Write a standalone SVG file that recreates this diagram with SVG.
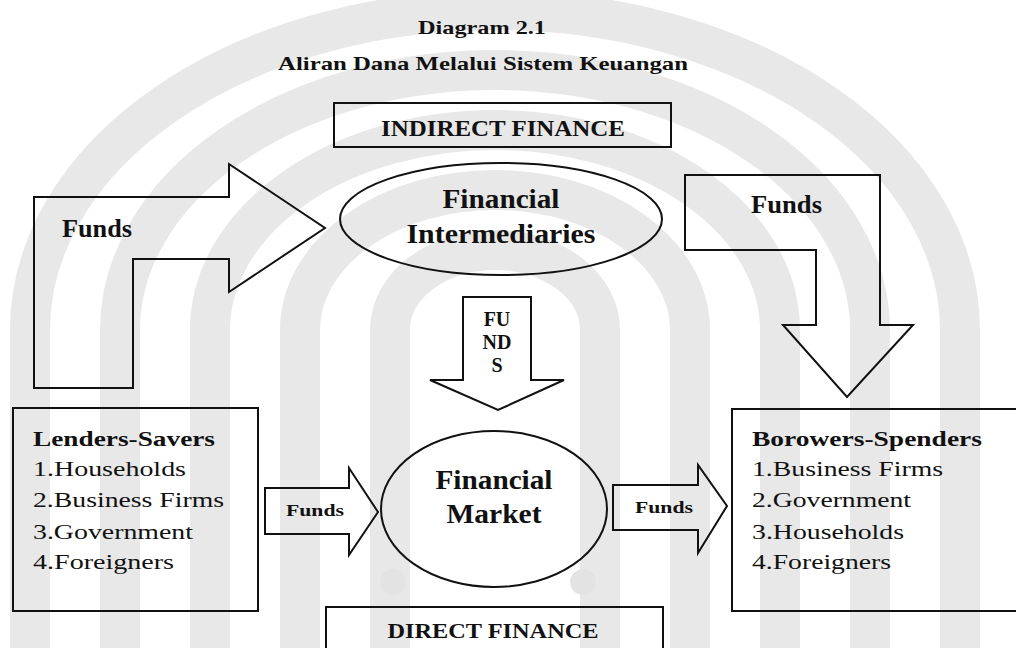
<svg xmlns="http://www.w3.org/2000/svg" width="1016" height="648" viewBox="0 0 1016 648">
  <defs>
    <style>
      .shape { fill: none; stroke: #111; stroke-width: 2; stroke-linejoin: miter; }
      .t { font-family: "Liberation Serif", "Times New Roman", serif; fill: #111; }
      .b { font-weight: bold; }
      .c { text-anchor: middle; }
      .wm { fill: none; stroke: #e8e8e8; stroke-width: 40; }
      .wm-dot { fill: #e3e3e3; }
    </style>
  </defs>
  <rect width="1016" height="648" fill="#ffffff"/>

  <!-- faint emblem printed behind the chart -->
  <g id="background-emblem">
    <path class="wm" d="M30,660 L30,330 A465,320 0 0 1 960,330 L960,660"/>
    <path class="wm" d="M120,660 L120,330 A375,260 0 0 1 870,330 L870,660"/>
    <path class="wm" d="M210,660 L210,330 A285,200 0 0 1 780,330 L780,660"/>
    <path class="wm" d="M300,660 L300,330 A195,140 0 0 1 690,330 L690,660"/>
    <path class="wm" d="M390,660 L390,330 A105,80 0 0 1 600,330 L600,660"/>
    <circle class="wm-dot" cx="393" cy="582" r="13"/>
    <circle class="wm-dot" cx="583" cy="582" r="13"/>
  </g>

  <!-- heading -->
  <g id="heading">
    <text class="t b c" x="482" y="34" font-size="19" textLength="128" lengthAdjust="spacingAndGlyphs">Diagram 2.1</text>
    <text class="t b c" x="483" y="70" font-size="19" textLength="410" lengthAdjust="spacingAndGlyphs">Aliran Dana Melalui Sistem Keuangan</text>
  </g>

  <!-- section labels -->
  <g id="indirect-finance">
    <rect class="shape" x="334" y="103" width="337" height="44"/>
    <text class="t b c" x="503" y="136" font-size="23" textLength="244" lengthAdjust="spacingAndGlyphs">INDIRECT FINANCE</text>
  </g>
  <g id="direct-finance">
    <rect class="shape" x="326" y="607" width="337" height="60"/>
    <text class="t b c" x="493" y="638" font-size="22" textLength="211" lengthAdjust="spacingAndGlyphs">DIRECT FINANCE</text>
  </g>

  <!-- institutions -->
  <g id="financial-intermediaries">
    <ellipse class="shape" cx="501" cy="219" rx="161" ry="56"/>
    <text class="t b c" x="501" y="208" font-size="28" textLength="117" lengthAdjust="spacingAndGlyphs">Financial</text>
    <text class="t b c" x="501" y="243" font-size="28" textLength="189" lengthAdjust="spacingAndGlyphs">Intermediaries</text>
  </g>
  <g id="financial-market">
    <ellipse class="shape" cx="494" cy="509" rx="113" ry="78"/>
    <text class="t b c" x="494" y="489" font-size="28" textLength="117" lengthAdjust="spacingAndGlyphs">Financial</text>
    <text class="t b c" x="494" y="523" font-size="28" textLength="95" lengthAdjust="spacingAndGlyphs">Market</text>
  </g>

  <!-- sectors -->
  <g id="lenders-savers">
    <rect class="shape" x="13" y="408" width="245" height="203"/>
    <text class="t b" x="33" y="446" font-size="22" textLength="182" lengthAdjust="spacingAndGlyphs">Lenders-Savers</text>
    <text class="t" x="33" y="476" font-size="22" textLength="153" lengthAdjust="spacingAndGlyphs">1.Households</text>
    <text class="t" x="33" y="507" font-size="22" textLength="191" lengthAdjust="spacingAndGlyphs">2.Business Firms</text>
    <text class="t" x="33" y="539" font-size="22" textLength="160" lengthAdjust="spacingAndGlyphs">3.Government</text>
    <text class="t" x="33" y="569" font-size="22" textLength="141" lengthAdjust="spacingAndGlyphs">4.Foreigners</text>
  </g>
  <g id="borrowers-spenders">
    <rect class="shape" x="732" y="409" width="300" height="202"/>
    <text class="t b" x="752" y="446" font-size="22" textLength="230" lengthAdjust="spacingAndGlyphs">Borowers-Spenders</text>
    <text class="t" x="752" y="476" font-size="22" textLength="191" lengthAdjust="spacingAndGlyphs">1.Business Firms</text>
    <text class="t" x="752" y="507" font-size="22" textLength="159" lengthAdjust="spacingAndGlyphs">2.Government</text>
    <text class="t" x="752" y="539" font-size="22" textLength="152" lengthAdjust="spacingAndGlyphs">3.Households</text>
    <text class="t" x="752" y="569" font-size="22" textLength="139" lengthAdjust="spacingAndGlyphs">4.Foreigners</text>
  </g>

  <!-- block arrows carrying the flow of funds -->
  <g id="connectors">
    <g id="funds-savers-to-intermediaries">
      <polygon class="shape" points="34,197 229,197 229,164 325,228 229,292 229,259 133,259 133,388 34,388"/>
      <text class="t b" x="62" y="237" font-size="26" textLength="70" lengthAdjust="spacingAndGlyphs">Funds</text>
    </g>
    <g id="funds-intermediaries-to-borrowers">
      <polygon class="shape" points="685,175 880,175 880,325 913,325 847,397 783,325 816,325 816,250 685,250"/>
      <text class="t b" x="751" y="213" font-size="26" textLength="71" lengthAdjust="spacingAndGlyphs">Funds</text>
    </g>
    <g id="funds-intermediaries-to-market">
      <polygon class="shape" points="463,297 531,297 531,380 564,380 498,410 430,380 463,380"/>
      <text class="t b c" x="497" y="326" font-size="20">FU</text>
      <text class="t b c" x="497" y="349" font-size="20">ND</text>
      <text class="t b c" x="497" y="372" font-size="20">S</text>
    </g>
    <g id="funds-savers-to-market">
      <polygon class="shape" points="265,488 349,488 349,468 378,512 349,555 349,534 265,534"/>
      <text class="t b c" x="315" y="516" font-size="17" textLength="58" lengthAdjust="spacingAndGlyphs">Funds</text>
    </g>
    <g id="funds-market-to-borrowers">
      <polygon class="shape" points="613,485 698,485 698,465 727,506 698,553 698,530 613,530"/>
      <text class="t b c" x="664" y="513" font-size="17" textLength="58" lengthAdjust="spacingAndGlyphs">Funds</text>
    </g>
  </g>
</svg>
